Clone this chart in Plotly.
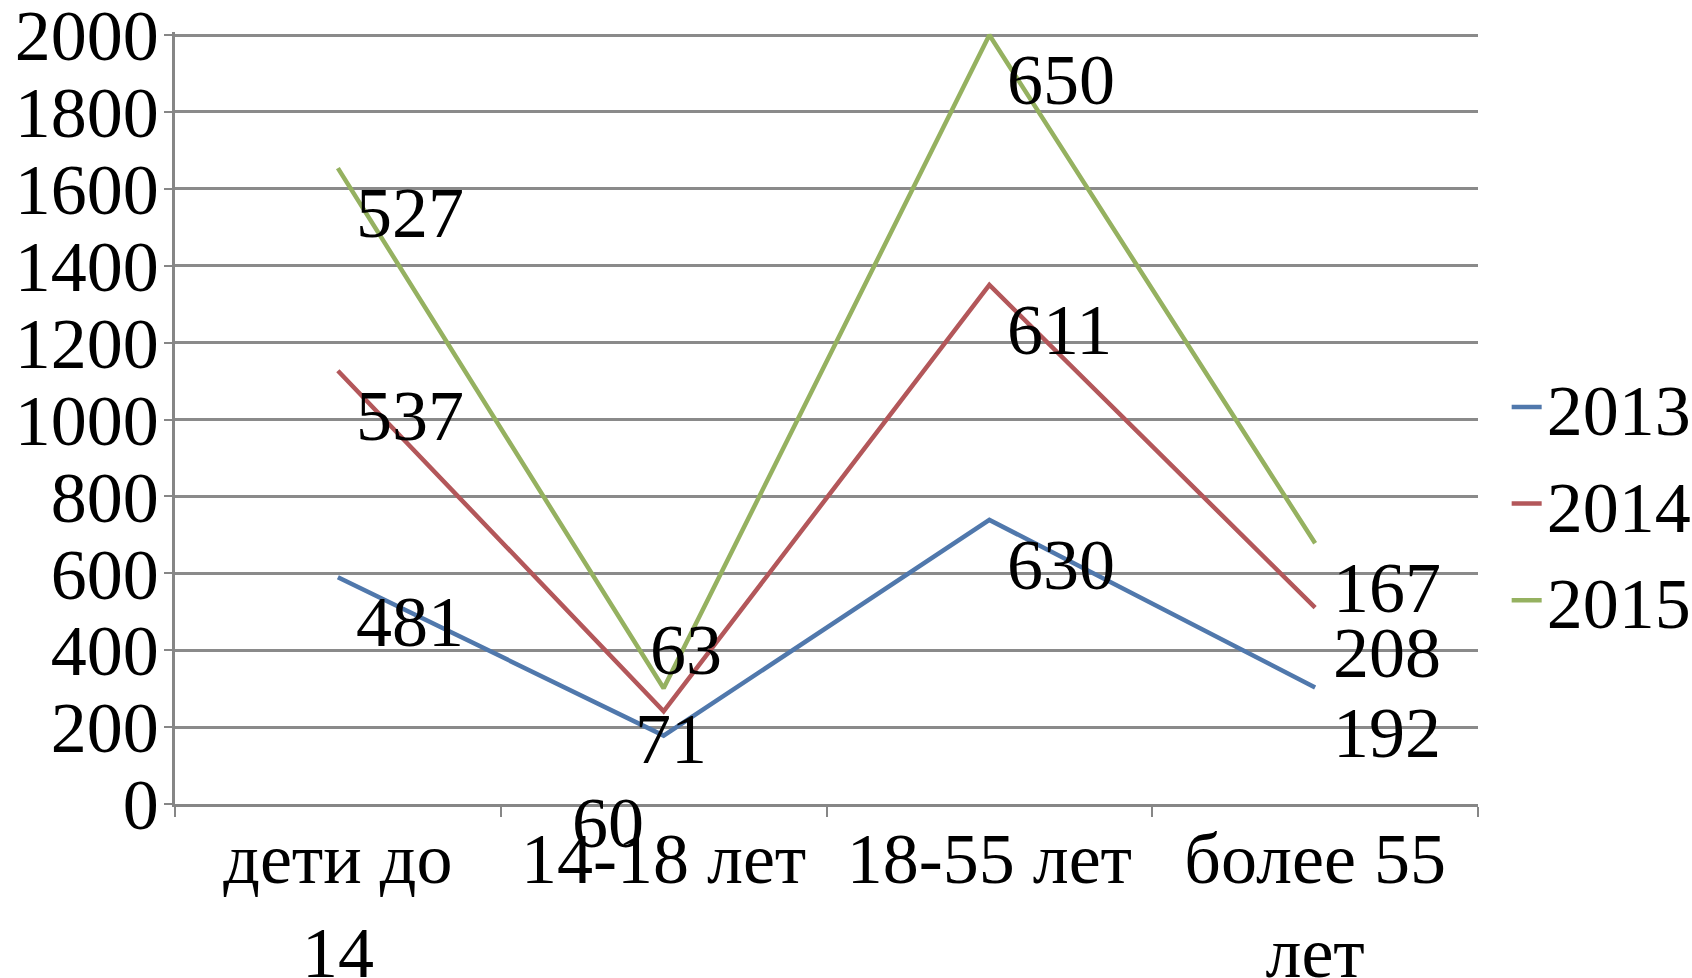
import plotly.graph_objects as go

categories = ["дети до<br>14", "14-18 лет", "18-55 лет", "более 55<br>лет"]
years = ["2013", "2014", "2015"]
# stacked increments
v2013 = [590, 178, 739, 303]
v2014 = [537, 63, 611, 208]
v2015 = [527, 60, 650, 167]
series_values = [v2013, v2014, v2015]
# data-label texts as shown
lbl2013 = ["481", "71", "630", "192"]
lbl2014 = ["537", "63", "611", "208"]
lbl2015 = ["527", "60", "650", "167"]
series_labels = [lbl2013, lbl2014, lbl2015]
y_ticks = [0, 200, 400, 600, 800, 1000, 1200, 1400, 1600, 1800, 2000]

colors = ["#5078AC", "#B3575A", "#95B160"]
FONT = "Liberation Serif, Times New Roman, serif"
FS = 72

# label offsets (pixels) relative to their stacked point: (xshift, yshift)
default_shift = (16, -45)
shift_overrides = {(0, 1): (-31, -3), (1, 1): (-16, 61), (2, 1): (-94, -135)}

fig = go.Figure()
cum = [0, 0, 0, 0]
for s, (name, vals, labs, col) in enumerate(zip(years, series_values, series_labels, colors)):
    fig.add_trace(go.Scatter(
        x=categories, y=vals, name=name, mode="lines",
        stackgroup="one", fill="none",
        line=dict(color=col, width=4.5),
        cliponaxis=False,
    ))
    cum = [c + v for c, v in zip(cum, vals)]
    for i, (cat, lab) in enumerate(zip(categories, labs)):
        xs, ys = shift_overrides.get((s, i), default_shift)
        fig.add_annotation(
            x=cat, y=cum[i], xref="x", yref="y", text=lab, showarrow=False,
            xanchor="left", yanchor="middle", xshift=xs, yshift=ys,
            font=dict(family=FONT, size=FS, color="black"),
        )

fig.update_layout(
    width=1692, height=978,
    margin=dict(l=175, r=214, t=32, b=174, autoexpand=False),
    paper_bgcolor="white", plot_bgcolor="white",
    font=dict(family=FONT, size=FS, color="black"),
    legend=dict(x=1.022, y=0.389, xanchor="left", yanchor="middle",
                font=dict(family=FONT, size=FS, color="black"),
                bgcolor="rgba(0,0,0,0)", itemwidth=30),
    showlegend=True,
)
fig.update_xaxes(
    type="category", range=[-0.5, 3.5], automargin=False,
    showgrid=False, showline=True, linecolor="#868686", linewidth=2.5,
    ticks="outside", tickson="boundaries", ticklen=10, tickcolor="#868686", tickwidth=2,
    tickfont=dict(family=FONT, size=FS, color="black"),
    ticklabelstandoff=-10, ticklabeloverflow="allow",
)
fig.update_yaxes(
    range=[0, 2008], tickvals=y_ticks, automargin=False,
    showgrid=True, gridcolor="#8A8A8A", gridwidth=2.5,
    showline=True, linecolor="#868686", linewidth=2.5,
    ticks="outside", ticklen=8, tickcolor="#868686", tickwidth=2,
    tickfont=dict(family=FONT, size=FS, color="black"),
    ticklabelstandoff=-9, ticklabeloverflow="allow",
    zeroline=False,
)

fig.write_html(
    "out.html",
    config={"displayModeBar": False},
    post_script="document.body.style.margin='0px';document.body.style.overflow='hidden';",
)
